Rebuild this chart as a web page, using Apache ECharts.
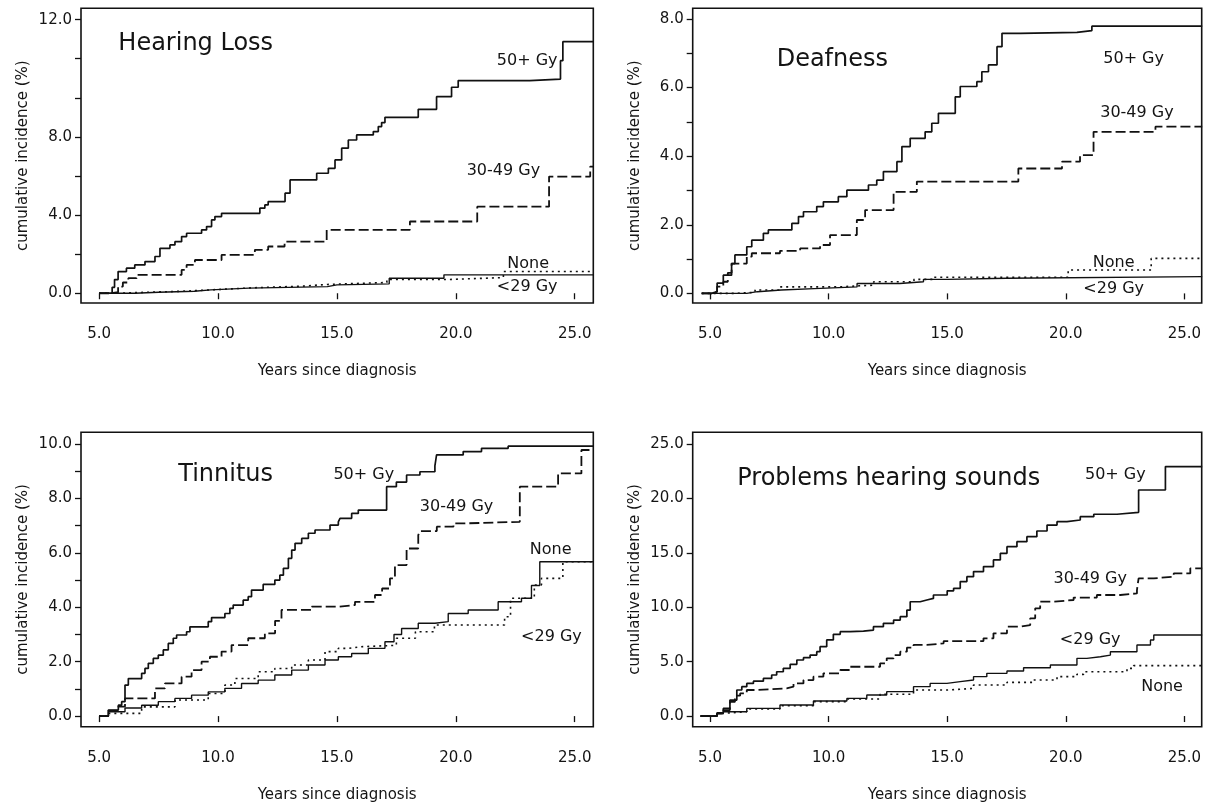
<!DOCTYPE html>
<html>
<head>
<meta charset="utf-8">
<script src="https://cdn.jsdelivr.net/npm/echarts@6/dist/echarts.min.js"></script>
<style>
html,body{margin:0;padding:0;background:#fff;}
#chart{width:1207px;height:805px;}
</style>
</head>
<body>
<div id="chart"></div>
<script>
// ---------- data (years since diagnosis, cumulative incidence %) ----------
const panelTitles = ["Hearing Loss", "Deafness", "Tinnitus", "Problems hearing sounds"];
const groupNames = ["50+ Gy", "30-49 Gy", "<29 Gy", "None"];

const xTickValues = [5, 10, 15, 20, 25];

// Hearing loss
const hl50 = [[5.0,0],[5.55,0.3],[5.65,0.7],[5.8,1.11],[6.15,1.28],[6.5,1.45],[6.93,1.62],[7.35,1.88],[7.56,2.3],[7.98,2.47],[8.19,2.64],[8.47,2.9],[8.68,3.07],[9.31,3.24],[9.52,3.41],[9.73,3.75],[9.87,3.92],[10.15,4.09],[11.76,4.35],[11.97,4.52],[12.11,4.69],[12.82,5.12],[13.03,5.8],[14.15,6.14],[14.64,6.39],[14.92,6.82],[15.2,7.42],[15.48,7.84],[15.83,8.1],[16.53,8.27],[16.74,8.53],[16.88,8.73],[17.02,9.0],[18.42,9.41],[19.19,10.06],[19.82,10.54],[20.1,10.88],[23.11,10.96],[24.4,11.9],[24.5,12.87],[25.8,12.87]];
const hl3049 = [[5.0,0],[5.5,0.05],[5.8,0.34],[6.0,0.55],[6.23,0.77],[6.58,0.94],[8.47,1.19],[8.68,1.45],[9.03,1.7],[10.15,1.96],[11.55,2.22],[12.11,2.39],[12.8,2.64],[14.57,3.24],[18.07,3.67],[20.9,4.43],[23.92,5.97],[25.65,6.48],[25.8,6.48]];
const hlLow = [[5.0,0],[6.5,0.05],[7.5,0.1],[9.0,0.17],[9.7,0.26],[11.3,0.34],[14.6,0.43],[15.0,0.48],[17.2,0.77],[19.5,0.94],[25.8,0.94]];
const hlNone = [[5.0,0],[5.8,0.05],[7.0,0.1],[8.5,0.18],[9.8,0.28],[11.5,0.36],[13.5,0.45],[14.6,0.55],[17.1,0.7],[19.6,0.8],[22.0,1.11],[25.8,1.11]];

// Deafness
const df50 = [[4.65,0],[5.07,0.05],[5.3,0.3],[5.56,0.53],[5.91,0.87],[6.05,1.12],[6.55,1.36],[6.76,1.55],[7.25,1.75],[7.46,1.85],[8.45,2.04],[8.73,2.24],[8.94,2.38],[9.5,2.53],[9.78,2.67],[10.41,2.82],[10.77,3.01],[11.68,3.16],[12.03,3.3],[12.31,3.55],[12.88,3.84],[13.09,4.28],[13.44,4.52],[14.07,4.71],[14.35,4.96],[14.63,5.25],[15.34,5.73],[15.55,6.03],[16.25,6.17],[16.46,6.46],[16.74,6.66],[17.1,7.19],[17.31,7.58],[18.08,7.61],[20.47,7.66],[21.1,7.79],[25.75,7.79]];
const df3049 = [[4.65,0],[5.07,0.05],[5.3,0.2],[5.56,0.34],[5.75,0.6],[5.91,0.87],[6.55,1.07],[6.76,1.17],[7.95,1.24],[8.8,1.31],[9.64,1.41],[10.06,1.7],[11.19,2.14],[11.54,2.43],[12.74,2.96],[13.72,3.26],[18.0,3.64],[19.84,3.84],[20.6,4.03],[21.17,4.71],[23.78,4.86],[25.75,4.86]];
const dfLow = [[4.65,0],[6.55,0.05],[7.0,0.1],[8.0,0.14],[9.4,0.19],[11.2,0.29],[13.0,0.34],[14.0,0.41],[15.0,0.44],[17.5,0.49],[25.75,0.49]];
const dfNone = [[4.65,0],[6.0,0.03],[6.9,0.1],[7.9,0.19],[10.4,0.24],[11.9,0.34],[13.6,0.41],[14.4,0.47],[20.1,0.68],[23.6,1.02],[25.75,1.02]];

// Tinnitus
const tn50 = [[5.0,0],[5.39,0.22],[5.81,0.4],[5.95,0.53],[6.09,1.14],[6.23,1.38],[6.79,1.57],[6.93,1.75],[7.07,1.94],[7.28,2.12],[7.49,2.24],[7.7,2.43],[7.91,2.67],[8.12,2.86],[8.26,2.98],[8.68,3.1],[8.82,3.28],[9.59,3.47],[9.73,3.62],[10.29,3.77],[10.5,3.96],[10.64,4.08],[11.06,4.26],[11.27,4.39],[11.41,4.63],[11.9,4.84],[12.39,5.0],[12.6,5.18],[12.75,5.43],[12.96,5.8],[13.1,6.1],[13.24,6.35],[13.52,6.53],[13.8,6.72],[14.08,6.84],[14.71,7.02],[15.06,7.14],[15.13,7.27],[15.62,7.45],[15.9,7.57],[17.09,8.43],[17.5,8.6],[17.93,8.86],[18.49,8.98],[19.12,9.2],[19.19,9.6],[20.31,9.72],[21.08,9.84],[22.2,9.92],[25.78,9.92]];
const tn3049 = [[5.0,0],[5.39,0.2],[5.81,0.35],[6.09,0.65],[7.35,1.02],[7.77,1.2],[8.47,1.45],[8.89,1.69],[9.31,2.0],[9.66,2.18],[10.15,2.37],[10.57,2.61],[11.27,2.86],[11.97,3.04],[12.4,3.5],[12.67,3.9],[13.94,4.02],[15.06,4.08],[15.76,4.2],[16.6,4.45],[16.9,4.69],[17.23,5.06],[17.44,5.55],[17.93,6.16],[18.42,6.65],[18.49,6.8],[19.2,6.96],[19.9,7.08],[20.31,7.14],[22.69,8.43],[24.3,8.92],[25.28,9.78],[25.78,9.78]];
const tnLow = [[5.0,0],[5.39,0.16],[6.09,0.3],[6.79,0.4],[7.49,0.53],[8.19,0.65],[8.89,0.77],[9.59,0.89],[10.29,1.02],[10.99,1.2],[11.69,1.32],[12.39,1.51],[13.1,1.69],[13.8,1.88],[14.5,2.06],[15.06,2.18],[15.62,2.3],[16.32,2.49],[17.02,2.73],[17.4,3.0],[17.72,3.22],[18.42,3.41],[19.12,3.47],[19.68,3.77],[20.52,3.9],[21.78,4.2],[22.76,4.33],[23.18,4.8],[23.53,5.67],[25.78,5.67]];
const tnNone = [[5.0,0],[5.39,0.1],[6.79,0.34],[8.19,0.59],[9.59,0.83],[10.29,1.14],[10.71,1.38],[11.69,1.63],[12.39,1.75],[13.1,1.88],[13.8,2.06],[14.5,2.37],[15.06,2.49],[15.5,2.55],[16.0,2.6],[17.5,2.86],[18.3,3.1],[19.1,3.35],[22.05,3.65],[22.3,4.33],[23.3,4.82],[23.6,5.06],[24.5,5.67],[25.78,5.67]];

// Problems hearing sounds
const ph50 = [[4.6,0],[5.07,0],[5.3,0.3],[5.56,0.7],[5.84,1.47],[6.13,2.39],[6.34,2.7],[6.55,3.0],[6.83,3.2],[7.25,3.46],[7.6,3.77],[7.81,4.07],[8.09,4.38],[8.38,4.75],[8.66,5.15],[8.94,5.36],[9.22,5.6],[9.5,5.91],[9.64,6.37],[9.92,6.99],[10.2,7.51],[10.49,7.75],[10.91,7.81],[11.47,7.9],[11.89,8.21],[12.31,8.52],[12.74,8.82],[13.02,9.13],[13.3,9.74],[13.44,10.5],[13.86,10.66],[14.14,10.81],[14.42,11.12],[15.0,11.5],[15.27,11.73],[15.55,12.35],[15.83,12.8],[16.11,13.27],[16.53,13.73],[16.95,14.34],[17.24,14.95],[17.52,15.56],[17.94,16.02],[18.36,16.48],[18.78,17.0],[19.21,17.55],[19.63,17.86],[20.05,18.01],[20.61,18.32],[21.18,18.54],[22.16,18.72],[23.07,20.77],[24.2,22.92],[25.75,22.92]];
const ph3049 = [[4.6,0],[5.07,0],[5.3,0.25],[5.56,0.55],[5.84,1.3],[6.05,1.87],[6.27,2.08],[6.55,2.39],[6.97,2.54],[8.23,2.7],[8.52,3.0],[8.94,3.3],[9.36,3.62],[9.78,3.92],[10.49,4.23],[10.91,4.53],[12.17,4.84],[12.45,5.3],[12.74,5.6],[13.02,5.91],[13.3,6.28],[13.58,6.53],[14.14,6.68],[14.85,6.89],[16.53,7.14],[16.95,7.6],[17.52,8.21],[18.08,8.36],[18.5,8.98],[18.71,9.9],[18.92,10.51],[19.49,10.66],[20.33,10.88],[21.31,11.12],[22.3,11.27],[23.0,11.58],[23.07,12.65],[23.71,12.8],[24.55,13.1],[25.25,13.57],[25.75,13.57]];
const phLow = [[4.6,0],[5.07,0],[5.3,0.2],[5.56,0.4],[6.55,0.7],[7.95,1.01],[9.36,1.38],[10.77,1.62],[11.61,1.93],[12.45,2.24],[13.58,2.7],[14.28,3.0],[14.99,3.16],[15.55,3.31],[16.11,3.62],[16.67,3.92],[17.52,4.14],[18.22,4.44],[19.35,4.69],[20.47,5.3],[20.89,5.45],[21.46,5.6],[21.88,5.91],[23.0,6.53],[23.57,6.99],[23.71,7.44],[25.75,7.44]];
const phNone = [[4.6,0],[5.07,0],[5.3,0.25],[5.56,0.4],[6.55,0.64],[7.95,0.95],[9.36,1.32],[10.77,1.56],[12.17,2.0],[13.58,2.39],[14.99,2.54],[16.11,2.85],[17.52,3.09],[18.64,3.31],[19.63,3.62],[20.47,3.83],[20.75,4.07],[22.58,4.38],[22.86,4.63],[25.75,4.63]];

// y-axis tick marks and labels per panel
const hlYTicks = [0,2,4,6,8,10,12,14];
const hlYLabelValues = [0,4,8,14];
const hlYLabels = ["0.0","4.0","8.0","12.0"];
const dfYTicks = [0,1,2,3,4,5,6,7,8];
const dfYLabelValues = [0,2,4,6,8];
const dfYLabels = ["0.0","2.0","4.0","6.0","8.0"];
const tnYTicks = [0,1,2,3,4,5,6,7,8,9,10];
const tnYLabelValues = [0,2,4,6,8,10];
const tnYLabels = ["0.0","2.0","4.0","6.0","8.0","10.0"];
const phYTicks = [0,5,10,15,20,25];
const phYLabelValues = [0,5,10,15,20,25];
const phYLabels = ["0.0","5.0","10.0","15.0","20.0","25.0"];

// curve labels: [x, y] in data units, text
const hlCurveLabels = [[23.0,11.9,"50+ Gy"],[22.0,6.27,"30-49 Gy"],[23.04,1.48,"None"],[23.0,0.31,"<29 Gy"]];
const dfCurveLabels = [[22.86,6.85,"50+ Gy"],[23.0,5.25,"30-49 Gy"],[22.02,0.89,"None"],[22.02,0.12,"<29 Gy"]];
const tnCurveLabels = [[16.13,8.86,"50+ Gy"],[20.03,7.7,"30-49 Gy"],[23.99,6.1,"None"],[24.02,2.92,"<29 Gy"]];
const phCurveLabels = [[22.09,22.15,"50+ Gy"],[21.03,12.59,"30-49 Gy"],[21.03,6.99,"<29 Gy"],[24.06,2.7,"None"]];
const titlePos = [[5.81,12.79],[7.81,6.82],[8.33,8.88],[6.15,21.84]];

// ---------- chart ----------
const FONT = "DejaVu Sans";
const INK = "#111111";
const TXT = "#141414";

const panels = [
  {grid:{left:81,top:8.3,width:512.3,height:294.7}, x:[4.24,25.78], y:[-0.5,14.58],
   ticks:hlYTicks, lv:hlYLabelValues, lt:hlYLabels, series:[hl50,hl3049,hlLow,hlNone], labels:hlCurveLabels},
  {grid:{left:692.7,top:8.3,width:509,height:294.7}, x:[4.27,25.73], y:[-0.28,8.31],
   ticks:dfYTicks, lv:dfYLabelValues, lt:dfYLabels, series:[df50,df3049,dfLow,dfNone], labels:dfCurveLabels},
  {grid:{left:81,top:432.3,width:512.3,height:294.4}, x:[4.24,25.78], y:[-0.39,10.43],
   ticks:tnYTicks, lv:tnYLabelValues, lt:tnYLabels, series:[tn50,tn3049,tnLow,tnNone], labels:tnCurveLabels},
  {grid:{left:692.7,top:432.3,width:509,height:294.4}, x:[4.27,25.73], y:[-0.98,26.07],
   ticks:phYTicks, lv:phYLabelValues, lt:phYLabels, series:[ph50,ph3049,phLow,phNone], labels:phCurveLabels}
];

const lineStyles = [
  {type:'solid', width:1.7},
  {type:[10,4], width:1.8},
  {type:'solid', width:1.4},
  {type:[2,4], width:1.6}
];

const textLabel = (size, align) => ({
  show:true, position:'inside', align:align, formatter:'{b}', fontFamily:FONT, fontSize:size,
  color:TXT, textBorderWidth:0, textBorderColor:'transparent', opacity:1
});

const grids = [], xAxes = [], yAxes = [], series = [];
panels.forEach((p, i) => {
  grids.push(Object.assign({show:true, borderColor:INK, borderWidth:1.6, backgroundColor:'transparent'}, p.grid));
  xAxes.push({
    type:'value', gridIndex:i, min:p.x[0], max:p.x[1],
    name:'Years since diagnosis', nameLocation:'middle', nameGap:61,
    nameTextStyle:{fontFamily:FONT, fontSize:15, color:TXT},
    axisLine:{show:false}, splitLine:{show:false},
    axisTick:{show:true, inside:false, length:6, customValues:xTickValues, lineStyle:{color:INK, width:1.3}},
    axisLabel:{show:true, margin:24, customValues:xTickValues, fontFamily:FONT, fontSize:15, color:TXT,
      formatter:v => v.toFixed(1)}
  });
  yAxes.push({
    type:'value', gridIndex:i, min:p.y[0], max:p.y[1],
    name:'cumulative incidence (%)', nameLocation:'middle', nameRotate:90, nameGap:50,
    nameTextStyle:{fontFamily:FONT, fontSize:15, color:TXT},
    axisLine:{show:false}, splitLine:{show:false},
    axisTick:{show:true, inside:false, length:6, customValues:p.ticks, lineStyle:{color:INK, width:1.3}},
    axisLabel:{show:true, margin:9, customValues:p.lv, fontFamily:FONT, fontSize:15, color:TXT,
      formatter:v => { const k = p.lv.indexOf(v); return k >= 0 ? p.lt[k] : ''; }}
  });
  p.series.forEach((d, j) => {
    series.push({
      type:'line', name:groupNames[j], xAxisIndex:i, yAxisIndex:i, data:d, step:'end',
      showSymbol:false, symbol:'none', silent:true, z:3,
      lineStyle:Object.assign({color:INK}, lineStyles[j])
    });
  });
  series.push({
    type:'scatter', xAxisIndex:i, yAxisIndex:i, symbolSize:1, silent:true, z:5,
    itemStyle:{color:'rgba(0,0,0,0)'},
    data:p.labels.map(l => ({value:[l[0], l[1]], name:l[2]})),
    label:textLabel(16, 'center')
  });
  series.push({
    type:'scatter', xAxisIndex:i, yAxisIndex:i, symbolSize:1, silent:true, z:5,
    itemStyle:{color:'rgba(0,0,0,0)'},
    data:[{value:titlePos[i], name:panelTitles[i]}],
    label:textLabel(24, 'left')
  });
});

const chart = echarts.init(document.getElementById('chart'), null, {renderer:'canvas'});
chart.setOption({
  animation:false,
  backgroundColor:'#ffffff',
  grid:grids, xAxis:xAxes, yAxis:yAxes, series:series
});
</script>
</body>
</html>
